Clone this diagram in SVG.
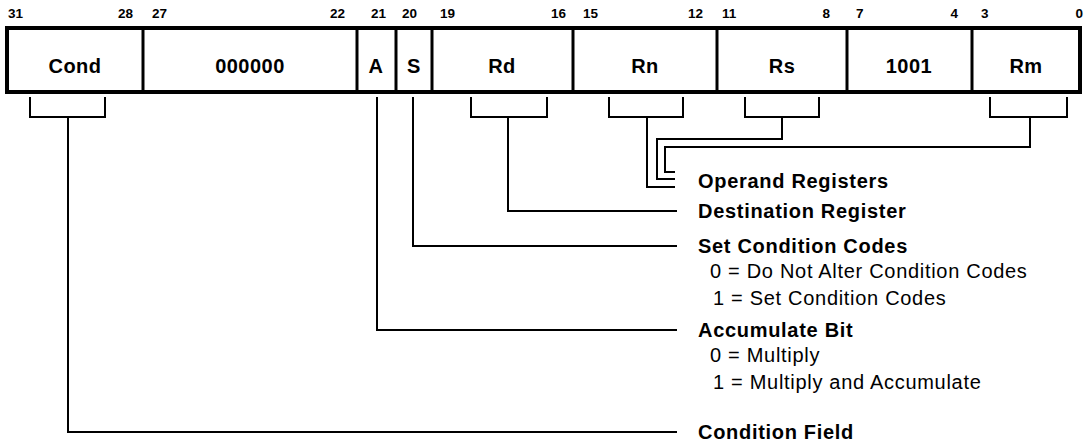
<svg xmlns="http://www.w3.org/2000/svg" width="1084" height="442" viewBox="0 0 1084 442">
<style>
.bit{font-family:"Liberation Sans",Arial,sans-serif;font-weight:bold;font-size:13.5px;fill:#000}
.fld{font-family:"Liberation Sans",Arial,sans-serif;font-weight:bold;font-size:20px;fill:#000;text-anchor:middle;letter-spacing:0.5px}
.lbl{font-family:"Liberation Sans",Arial,sans-serif;font-weight:bold;font-size:20px;fill:#000;letter-spacing:0.7px}
.val{font-family:"Liberation Sans",Arial,sans-serif;font-size:20px;fill:#000;letter-spacing:0.7px}
.box{fill:#fff;stroke:#000;stroke-width:4}
.div{stroke:#000;stroke-width:3}
.ln{fill:none;stroke:#000;stroke-width:2}
</style>
<rect width="1084" height="442" fill="#fff"/>
<g id="bits">
<text class="bit" x="8" y="18">31</text>
<text class="bit" x="133" y="18" text-anchor="end">28</text>
<text class="bit" x="152" y="18">27</text>
<text class="bit" x="345" y="18" text-anchor="end">22</text>
<text class="bit" x="371" y="18">21</text>
<text class="bit" x="402" y="18">20</text>
<text class="bit" x="440" y="18">19</text>
<text class="bit" x="566" y="18" text-anchor="end">16</text>
<text class="bit" x="583" y="18">15</text>
<text class="bit" x="703" y="18" text-anchor="end">12</text>
<text class="bit" x="722" y="18">11</text>
<text class="bit" x="830" y="18" text-anchor="end">8</text>
<text class="bit" x="856" y="18">7</text>
<text class="bit" x="958" y="18" text-anchor="end">4</text>
<text class="bit" x="981" y="18">3</text>
<text class="bit" x="1083" y="18" text-anchor="end">0</text>
</g>
<g id="instruction">
<rect class="box" x="7" y="28" width="1073" height="64"/>
<line class="div" x1="143" y1="28" x2="143" y2="92"/>
<line class="div" x1="357" y1="28" x2="357" y2="92"/>
<line class="div" x1="396" y1="28" x2="396" y2="92"/>
<line class="div" x1="432" y1="28" x2="432" y2="92"/>
<line class="div" x1="573" y1="28" x2="573" y2="92"/>
<line class="div" x1="717" y1="28" x2="717" y2="92"/>
<line class="div" x1="847" y1="28" x2="847" y2="92"/>
<line class="div" x1="972" y1="28" x2="972" y2="92"/>
</g>
<g id="field-cond"><text class="fld" x="75" y="73">Cond</text></g>
<g id="field-zero"><text class="fld" x="250" y="73">000000</text></g>
<g id="field-a"><text class="fld" x="376" y="73">A</text></g>
<g id="field-s"><text class="fld" x="414" y="73">S</text></g>
<g id="field-rd"><text class="fld" x="502" y="73">Rd</text></g>
<g id="field-rn"><text class="fld" x="645" y="73">Rn</text></g>
<g id="field-rs"><text class="fld" x="782" y="73">Rs</text></g>
<g id="field-1001"><text class="fld" x="909" y="73">1001</text></g>
<g id="field-rm"><text class="fld" x="1026" y="73">Rm</text></g>
<g id="connectors">
<path class="ln" d="M30 97 V117 H105 V97 M68 117 V432 H677"/>
<path class="ln" d="M377 97 V330 H677"/>
<path class="ln" d="M413 97 V246 H677"/>
<path class="ln" d="M471 97 V117 H547 V97 M508 117 V211 H677"/>
<path class="ln" d="M609 97 V117 H683 V97 M647 117 V187 H675"/>
<path class="ln" d="M745 97 V117 H819 V97 M782 117 V139 H657 V179 H675"/>
<path class="ln" d="M990 97 V117 H1067 V97 M1030 117 V147 H665 V172 H675"/>
</g>
<g id="label-operand"><text class="lbl" x="698" y="188">Operand Registers</text></g>
<g id="label-dest"><text class="lbl" x="698" y="218">Destination Register</text></g>
<g id="label-setcc">
<text class="lbl" x="698" y="253">Set Condition Codes</text>
<text class="val" x="710" y="278">0 = Do Not Alter Condition Codes</text>
<text class="val" x="713" y="305">1 = Set Condition Codes</text>
</g>
<g id="label-acc">
<text class="lbl" x="698" y="337">Accumulate Bit</text>
<text class="val" x="710" y="362">0 = Multiply</text>
<text class="val" x="713" y="389">1 = Multiply and Accumulate</text>
</g>
<g id="label-cond"><text class="lbl" x="698" y="439">Condition Field</text></g>
</svg>
